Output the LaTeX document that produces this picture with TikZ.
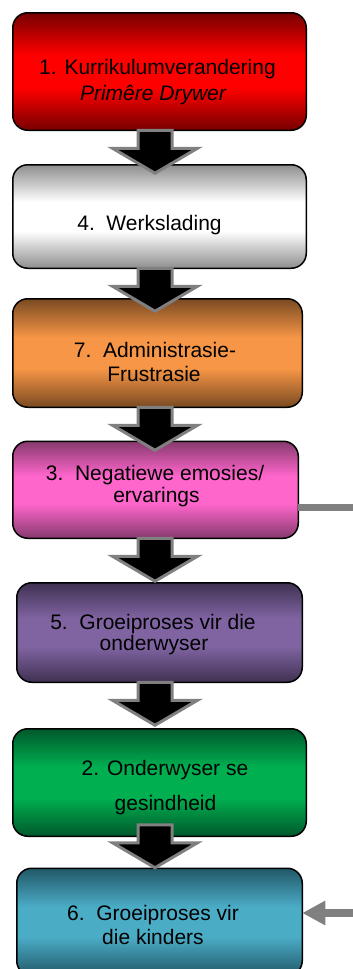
\documentclass[tikz,border=0pt]{standalone}
\usepackage{fontspec}
\setmainfont{Liberation Sans}
\usetikzlibrary{calc,arrows.meta}

% dark edge / bright centre of each box
\definecolor{redD}{HTML}{760000}\definecolor{redB}{HTML}{FF0000}
\definecolor{greyD}{HTML}{8E8E8E}\definecolor{greyB}{HTML}{FFFFFF}
\definecolor{orangeD}{HTML}{7A4A22}\definecolor{orangeB}{HTML}{F79646}
\definecolor{pinkD}{HTML}{863A6E}\definecolor{pinkB}{HTML}{FF66CC}
\definecolor{purpleD}{HTML}{3F3151}\definecolor{purpleB}{HTML}{8064A2}
\definecolor{greenD}{HTML}{00582B}\definecolor{greenB}{HTML}{00B050}
\definecolor{tealD}{HTML}{215868}\definecolor{tealB}{HTML}{4BACC6}
\definecolor{arrowgray}{HTML}{808080}

% dark - bright band - dark, across the height of a box
\newcommand\declboxshading[3]{%
  \pgfdeclareverticalshading{#1}{100bp}{color(0bp)=(#2); color(25bp)=(#2);
    color(43bp)=(#3); color(57bp)=(#3); color(75bp)=(#2); color(100bp)=(#2)}}
\declboxshading{bxred}{redD}{redB}
\declboxshading{bxgrey}{greyD}{greyB}
\declboxshading{bxorange}{orangeD}{orangeB}
\declboxshading{bxpink}{pinkD}{pinkB}
\declboxshading{bxpurple}{purpleD}{purpleB}
\declboxshading{bxgreen}{greenD}{greenB}
\declboxshading{bxteal}{tealD}{tealB}

\begin{document}
\begin{tikzpicture}[x=1pt,y=-1pt,
  every node/.style={inner sep=0pt,outer sep=0pt},
  box/.style={rectangle,rounded corners=15pt,draw=black,line width=1.5pt,shade},
  txt/.style={anchor=base,font=\fontsize{21}{24}\selectfont,text=black},
  blockarrow/.style={draw=arrowgray,fill=black,line width=3pt,line join=miter},
  sideline/.style={draw=arrowgray,line width=7pt},
  downarrow/.pic={\path[blockarrow] (-17,0) -- (-17,18) -- (-42.5,18) -- (0,43)
      -- (42.5,18) -- (17,18) -- (17,0) -- cycle;}]
\useasboundingbox (0,0) rectangle (353,969);
\clip (0,0) rectangle (353,969);
\coordinate (axis) at (155,0);

% boxes
\node[box,shading=bxred,minimum width=293.5pt,minimum height=117.5pt] (b1) at (159.5,71.5) {};
\node[box,shading=bxgrey,minimum width=293.5pt,minimum height=103.5pt] (b4) at (159.5,216.5) {};
\node[box,shading=bxorange,minimum width=289.5pt,minimum height=108.5pt] (b7) at (157.5,353) {};
\node[box,shading=bxpink,minimum width=285.5pt,minimum height=97pt] (b3) at (155.5,489.75) {};
\node[box,shading=bxpurple,minimum width=285.5pt,minimum height=99.5pt] (b5) at (159.5,632.5) {};
\node[box,shading=bxgreen,minimum width=293.5pt,minimum height=107.5pt] (b2) at (159.5,782.5) {};
\node[box,shading=bxteal,minimum width=285.5pt,minimum height=107.5pt] (b6) at (159.5,922) {};

% labels
\node[txt] (t1a) at (157.5,74) {1. Kurrikulumverandering};
\node[txt] (t1b) at (153,100) {\itshape Primêre Drywer};
\node[txt] (t4) at (149.5,230) {4.~~Werkslading};
\node[txt] (t7a) at (155,357) {7.~~Administrasie-};
\node[txt] (t7b) at (154,381) {Frustrasie};
\node[txt] (t3a) at (155,480) {3.~~Negatiewe emosies/};
\node[txt] (t3b) at (156.5,502.5) {ervarings};
\node[txt] (t5a) at (153,629) {5.~~Groeiproses vir die};
\node[txt] (t5b) at (154,650) {onderwyser};
\node[txt] (t2a) at (165,775) {2. Onderwyser se};
\node[txt] (t2b) at (165.5,810) {gesindheid};
\node[txt] (t6a) at (153,920) {6.~~Groeiproses vir};
\node[txt] (t6b) at (153,944.5) {die kinders};

% block arrows between the boxes
\pic at (b1.south -| axis) {downarrow};
\pic at (b4.south -| axis) {downarrow};
\pic at (b7.south -| axis) {downarrow};
\pic at (b3.south -| axis) {downarrow};
\pic at (b5.south -| axis) {downarrow};
\pic at ($(b2.south -| axis)+(0,-11.5)$) {downarrow};

% side connectors
\coordinate (e3) at (362,507);
\draw[sideline] (b3.east |- e3) -- (e3);
\coordinate (e6) at (362,913);
\draw[sideline,line width=8pt,-{Triangle[length=23pt,width=23pt]}] (e6) -- (b6.east |- e6);
\end{tikzpicture}
\end{document}
